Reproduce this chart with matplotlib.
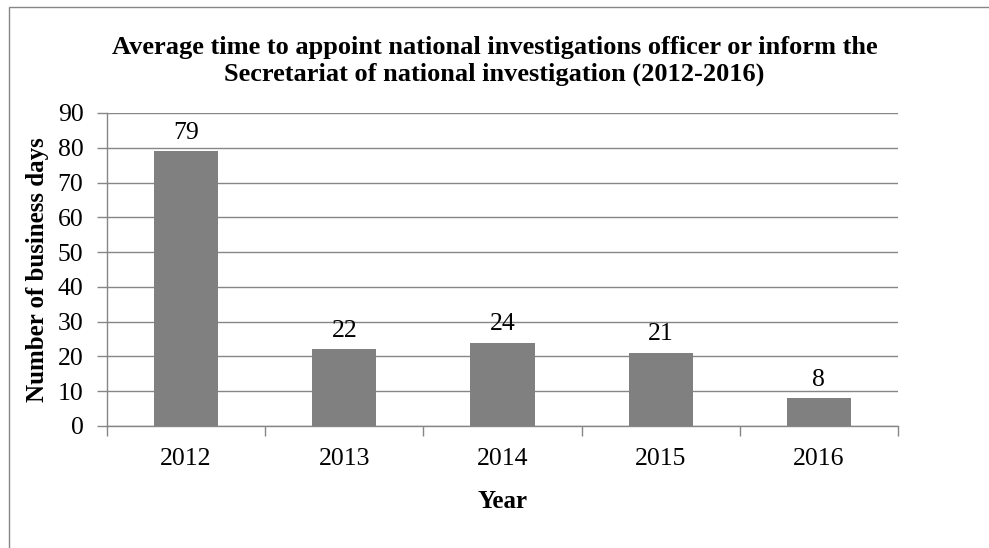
import matplotlib.pyplot as plt
from matplotlib.patches import Rectangle

years = ['2012', '2013', '2014', '2015', '2016']
days = [79, 22, 24, 21, 8]

plt.rcParams['font.family'] = ['Liberation Serif', 'DejaVu Serif']

fig = plt.figure(figsize=(9.89, 5.48), dpi=100)
ax = fig.add_axes([107 / 989, 122 / 548, 791 / 989, 313 / 548])

grid_color = '#868686'
x = range(len(years))
bars = ax.bar(x, days, width=0.405, color='#808080', zorder=3)
for b, v in zip(bars, days):
    ax.text(b.get_x() + b.get_width() / 2, v + 2.2, str(v),
            ha='center', va='bottom', fontsize=18.5)

ax.set_xlim(-0.5, len(years) - 0.5)
ax.set_ylim(0, 90)
ax.set_yticks(range(0, 91, 10))
ax.set_xticks(list(x))
ax.set_xticklabels(years)
ax.set_xticks([i - 0.5 for i in range(len(years) + 1)], minor=True)
ax.tick_params(axis='x', which='major', length=0, labelsize=18.5, pad=16)
ax.tick_params(axis='x', which='minor', length=7, color=grid_color, width=1)
ax.tick_params(axis='y', length=7, color=grid_color, width=1, labelsize=18.5, pad=10)
ax.yaxis.grid(True, color=grid_color, linewidth=1)
ax.set_axisbelow(True)
for s in ['top', 'right']:
    ax.spines[s].set_visible(False)
for s in ['left', 'bottom']:
    ax.spines[s].set_color(grid_color)
    ax.spines[s].set_linewidth(1)

ax.set_xlabel('Year', fontsize=18, fontweight='bold', labelpad=14)
ax.set_ylabel('Number of business days', fontsize=18, fontweight='bold', labelpad=6)
fig.text(0.5, 1 - 61 / 548,
         'Average time to appoint national investigations officer or inform the\n'
         'Secretariat of national investigation (2012-2016)',
         ha='center', va='center', fontsize=19, fontweight='bold', linespacing=1.2)

fig.patches.append(Rectangle((9 / 989, -0.1), 1.2, 1.1 - 7 / 548,
                             transform=fig.transFigure, fill=False,
                             edgecolor='#868686', linewidth=1))

fig.savefig('out.png', dpi=100)
